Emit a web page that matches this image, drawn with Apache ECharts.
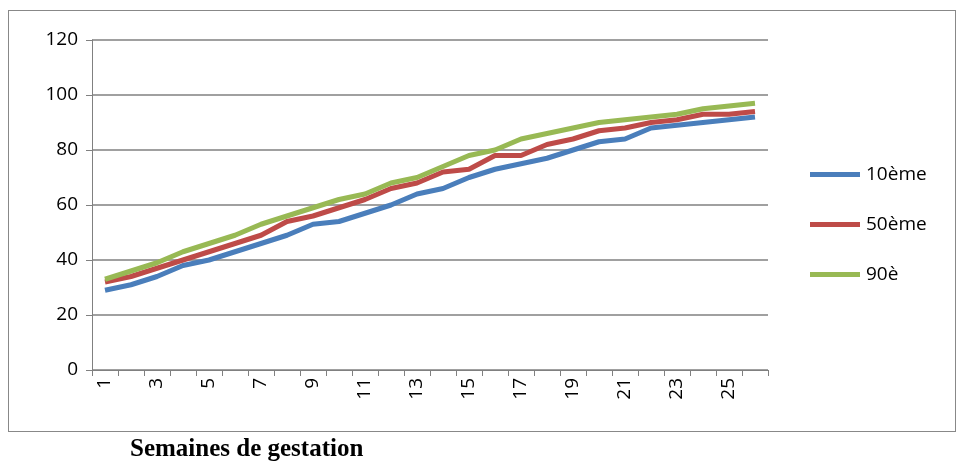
<!DOCTYPE html>
<html>
<head>
<meta charset="utf-8">
<script src="https://cdn.jsdelivr.net/npm/echarts@6/dist/echarts.min.js"></script>
<style>
  body { margin: 0; background: #fff; }
  #box { position: absolute; left: 8px; top: 10px; width: 946px; height: 420px; border: 1px solid #888; }
  #chart { position: absolute; left: 0; top: 0; width: 957px; height: 440px; }
  #xname { position: absolute; left: 130px; top: 434px; font: bold 25px "Liberation Serif", serif; }
</style>
</head>
<body>
<div id="box"></div>
<div id="chart"></div>
<div id="xname">Semaines de gestation</div>
<script>
  // semaines 1..26
  const weeks = Array.from({ length: 26 }, (_, i) => String(i + 1))
  const p10 = [29, 31, 34, 38, 40, 43, 46, 49, 53, 54, 57, 60, 64, 66, 70, 73, 75, 77, 80, 83, 84, 88, 89, 90, 91, 92]
  const p50 = [32, 34, 37, 40, 43, 46, 49, 54, 56, 59, 62, 66, 68, 72, 73, 78, 78, 82, 84, 87, 88, 90, 91, 93, 93, 94]
  const p90 = [33, 36, 39, 43, 46, 49, 53, 56, 59, 62, 64, 68, 70, 74, 78, 80, 84, 86, 88, 90, 91, 92, 93, 95, 96, 97]

  const myChart = echarts.init(document.getElementById('chart'))
  const line = (name, data, color) => ({
    name, type: 'line', data, symbol: 'none', smooth: false,
    lineStyle: { color, width: 5 }, itemStyle: { color }
  })
  myChart.setOption({
    animation: false,
    textStyle: { fontFamily: 'Open Sans, sans-serif' },
    grid: { left: 92, right: 189, top: 40, bottom: 70 },
    legend: {
      orient: 'vertical', left: 805, top: 160, itemGap: 31,
      itemWidth: 52, itemHeight: 5,
      icon: 'path://M0,0H10V1H0Z',
      textStyle: { fontSize: 19, color: '#000' },
      data: ['10ème', '50ème', '90è']
    },
    xAxis: {
      type: 'category', data: weeks, boundaryGap: true,
      axisLine: { lineStyle: { color: '#808080' } },
      axisTick: { show: true, interval: 0, length: 6, lineStyle: { color: '#808080' } },
      axisLabel: { interval: 1, rotate: 90, fontSize: 19, color: '#000', margin: 8 }
    },
    yAxis: {
      type: 'value', min: 0, max: 120, interval: 20,
      axisLine: { show: true, lineStyle: { color: '#808080' } },
      axisTick: { show: true, length: 6, lineStyle: { color: '#808080' } },
      splitLine: { lineStyle: { color: '#808080', width: 1.5 } },
      axisLabel: { fontSize: 19, color: '#000', margin: 14 }
    },
    series: [
      line('10ème', p10, '#4a7ebb'),
      line('50ème', p50, '#be4b48'),
      line('90è', p90, '#98b954')
    ]
  })
</script>
</body>
</html>
